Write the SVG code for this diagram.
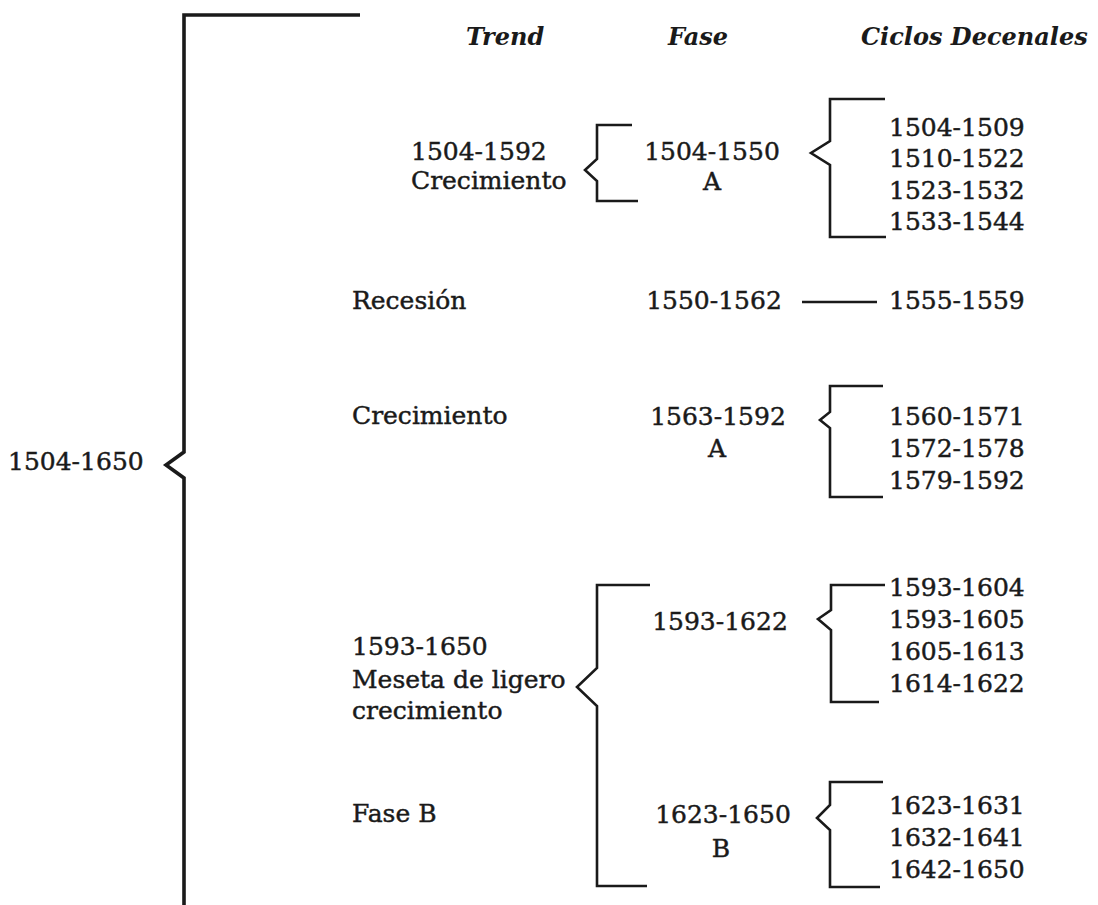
<svg xmlns="http://www.w3.org/2000/svg" width="1098" height="905" viewBox="0 0 1098 905">
<style>
text{font-family:"DejaVu Serif","Liberation Serif",serif;font-size:25px;fill:#1a1a1a;stroke:#1a1a1a;stroke-width:0.45}
.h{font-style:italic;font-weight:bold;font-size:24px;stroke-width:0}
.m{text-anchor:middle}
.br{fill:none;stroke:#1a1a1a;stroke-width:2.6;stroke-linejoin:miter}
.big{stroke-width:3.6}
</style>
<rect width="1098" height="905" fill="#fff"/>
<g id="headers">
<text class="h" x="466" y="45">Trend</text>
<text class="h" x="668" y="45">Fase</text>
<text class="h" x="861" y="45">Ciclos Decenales</text>
</g>
<g id="connectors">
<path class="br big" d="M360 15 H184 V452 L166 465 L184 478 V905"/>
<path class="br" d="M632 125 H597 V159 L585 170 L597 181 V201 H638"/>
<path class="br" d="M885 99 H830 V141 L811 153 L830 165 V237 H886"/>
<path class="br" d="M802 302 H877"/>
<path class="br" d="M883 386 H830 V412 L820 420 L830 428 V497 H883"/>
<path class="br" d="M650 585 H597 V668 L577 687 L597 706 V886 H647"/>
<path class="br" d="M885 585 H831 V610 L818 619 L831 630 V702 H879"/>
<path class="br" d="M883 782 H830 V805 L817 818 L830 830 V887 H880"/>
</g>
<g id="root"><text x="8" y="470">1504-1650</text></g>
<g id="trend">
<text x="411" y="160">1504-1592</text>
<text x="411" y="189">Crecimiento</text>
<text x="352" y="309">Recesión</text>
<text x="352" y="424">Crecimiento</text>
<text x="352" y="655">1593-1650</text>
<text x="352" y="688">Meseta de ligero</text>
<text x="352" y="719">crecimiento</text>
<text x="352" y="822">Fase B</text>
</g>
<g id="fase">
<text class="m" x="712" y="160">1504-1550</text>
<text class="m" x="712" y="190">A</text>
<text class="m" x="714" y="309">1550-1562</text>
<text class="m" x="718" y="425">1563-1592</text>
<text class="m" x="717" y="457">A</text>
<text class="m" x="720" y="630">1593-1622</text>
<text class="m" x="723" y="823">1623-1650</text>
<text class="m" x="721" y="857">B</text>
</g>
<g id="ciclos">
<text x="889" y="136">1504-1509</text>
<text x="889" y="167">1510-1522</text>
<text x="889" y="199">1523-1532</text>
<text x="889" y="230">1533-1544</text>
<text x="889" y="309">1555-1559</text>
<text x="889" y="425">1560-1571</text>
<text x="889" y="457">1572-1578</text>
<text x="889" y="489">1579-1592</text>
<text x="889" y="596">1593-1604</text>
<text x="889" y="628">1593-1605</text>
<text x="889" y="660">1605-1613</text>
<text x="889" y="692">1614-1622</text>
<text x="889" y="814">1623-1631</text>
<text x="889" y="846">1632-1641</text>
<text x="889" y="878">1642-1650</text>
</g>
</svg>
